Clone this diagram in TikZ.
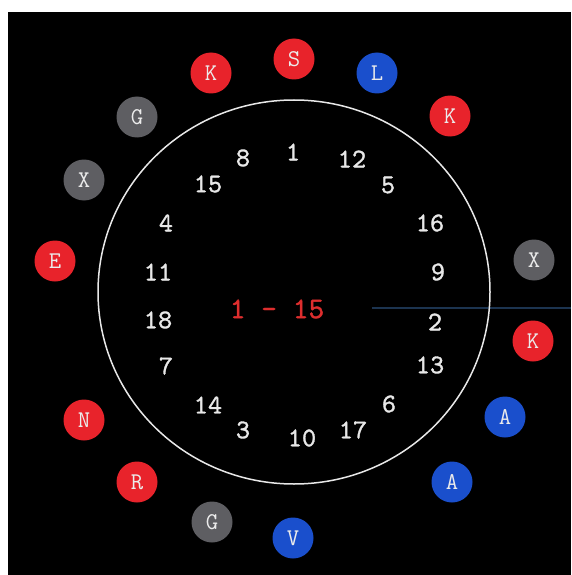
\documentclass[tikz,border=0pt]{standalone}
\usepackage{fontspec}
\newfontfamily\thickmono{lmmono10-regular.otf}[FakeBold=1.2]
\definecolor{dotred}{HTML}{E8232B}
\definecolor{dotblue}{HTML}{1A4FCC}
\definecolor{dotgray}{HTML}{5E5E62}
\definecolor{numwhite}{HTML}{E8E8E8}
\definecolor{midred}{HTML}{DE2E2E}
\definecolor{bgline}{HTML}{1C3450}
\begin{document}
\begin{tikzpicture}[x=1pt,y=-1pt,
  dot/.style={circle,minimum size=41pt,inner sep=0pt,text=white!92!black,font=\ttfamily\fontsize{24}{24}\selectfont},
  rdot/.style={dot,fill=dotred},
  bdot/.style={dot,fill=dotblue},
  gdot/.style={dot,fill=dotgray},
  num/.style={text=numwhite,inner sep=0pt,font=\thickmono\fontsize{27}{27}\selectfont},
  mid/.style={text=midred,inner sep=0pt,font=\thickmono\fontsize{30}{30}\selectfont}]
\fill[white] (0,0) rectangle (571,575);
\fill[black] (8,12) rectangle (571,575);
\useasboundingbox (0,0) rectangle (571,575);
\draw[bgline,line width=1.2pt] (372,308) -- (571,308);
\draw[numwhite,line width=1.5pt] (294,292) ellipse [x radius=196pt, y radius=192pt];
% dots
\node[rdot] (dS) at (294,59) {S};
\node[bdot] (dL) at (377,73) {L};
\node[rdot] (dK1) at (450,116) {K};
\node[gdot] (dX1) at (534,260) {X};
\node[rdot] (dK2) at (533,341) {K};
\node[bdot] (dA1) at (505,417) {A};
\node[bdot] (dA2) at (452,482) {A};
\node[bdot] (dV) at (293,538) {V};
\node[gdot] (dG2) at (212,522) {G};
\node[rdot] (dR) at (137,482) {R};
\node[rdot] (dN) at (84,420) {N};
\node[rdot] (dE) at (55,261) {E};
\node[gdot] (dX2) at (84,180) {X};
\node[gdot] (dG1) at (137,117) {G};
\node[rdot] (dK3) at (211,73) {K};
% numbers
\node[num] (n1) at (293,152) {1};
\node[num] (n12) at (352,159) {12};
\node[num] (n5) at (388,185) {5};
\node[num] (n16) at (430,223) {16};
\node[num] (n9) at (438,272) {9};
\node[num] (n2) at (435,322) {2};
\node[num] (n13) at (430,365) {13};
\node[num] (n6) at (389,404) {6};
\node[num] (n17) at (353,430) {17};
\node[num] (n10) at (302,438) {10};
\node[num] (n3) at (243,430) {3};
\node[num] (n14) at (208,405) {14};
\node[num] (n7) at (166,366) {7};
\node[num] (n18) at (158,320) {18};
\node[num] (n11) at (158,272) {11};
\node[num] (n4) at (166,223) {4};
\node[num] (n15) at (208,184) {15};
\node[num] (n8) at (243,158) {8};
\node[mid] (range) at (277,309) {1 - 15};
\end{tikzpicture}
\end{document}
